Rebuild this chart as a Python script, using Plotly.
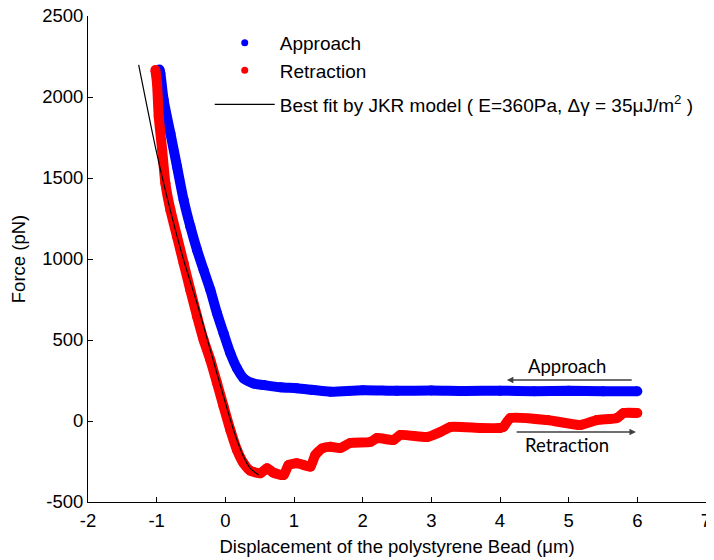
import plotly.graph_objects as go

# Approach (blue)
app_x = [-0.96, -0.946, -0.898, -0.80, -0.703, -0.607, -0.509, -0.412, -0.316, -0.218, -0.121,
         -0.025, 0.073, 0.170, 0.266, 0.41, 0.56, 0.80, 1.04, 1.29, 1.53, 2.0, 2.5, 3.0, 3.5,
         4.0, 4.5, 5.0, 5.5, 6.0]
app_y = [2170, 2146, 1981, 1776, 1570, 1364, 1199, 1056, 932, 809, 665,
         541, 418, 325, 263, 232, 222, 208, 202, 191, 181, 190, 186, 188, 185,
         187, 184, 186, 183, 184]

# Retraction (red)
ret_x = [-1.019, -0.995, -0.97, -0.92, -0.873, -0.80, -0.703, -0.607, -0.51, -0.41, -0.316,
         -0.218, -0.12, -0.025, 0.073, 0.17, 0.266, 0.364, 0.51, 0.607, 0.70, 0.85, 0.92,
         1.04, 1.14, 1.24, 1.31, 1.41, 1.53, 1.67, 1.82, 2.11, 2.21, 2.45, 2.55, 2.94,
         3.13, 3.28, 3.71, 4.0, 4.05, 4.15, 4.69, 5.17, 5.41, 5.70, 5.80, 6.0]
ret_y = [2167, 2085, 1879, 1673, 1467, 1303, 1138, 973, 809, 644, 500,
         377, 233, 89, -56, -179, -261, -307, -323, -292, -319, -333, -272,
         -261, -272, -282, -210, -169, -159, -167, -136, -130, -105, -117, -86, -99,
         -68, -37, -43, -43, -37, 18, 6, -25, 6, 18, 49, 49]

# JKR fit (black)
fit_x = [-1.262, -1.14, -1.02, -0.898, -0.752, -0.607, -0.412, -0.218, -0.025, 0.12, 0.266, 0.364, 0.485]
fit_y = [2198, 1940, 1693, 1467, 1220, 994, 727, 438, 150, -56, -220, -292, -333]

x_ticks = [-2, -1, 0, 1, 2, 3, 4, 5, 6, 7]
x_labels = ["-2", "-1", "0", "1", "2", "3", "4", "5", "6", "7"]
y_ticks = [-500, 0, 500, 1000, 1500, 2000, 2500]
y_labels = ["-500", "0", "500", "1000", "1500", "2000", "2500"]

font_main = "Liberation Sans, Arial, sans-serif"

fig = go.Figure()
fig.add_trace(go.Scatter(x=app_x, y=app_y, mode="lines+markers", showlegend=False,
                         line=dict(color="#0000ff", width=10, shape="spline", smoothing=0.8),
                         marker=dict(color="#0000ff", size=10)))
fig.add_trace(go.Scatter(x=ret_x, y=ret_y, mode="lines+markers", showlegend=False,
                         line=dict(color="#ff0000", width=10, shape="spline", smoothing=0.5),
                         marker=dict(color="#ff0000", size=10)))
fig.add_trace(go.Scatter(x=fit_x, y=fit_y, mode="lines", showlegend=False,
                         line=dict(color="black", width=1.2, shape="spline", smoothing=0.8)))
# legend entries
fig.add_trace(go.Scatter(x=[None], y=[None], mode="markers", name="Approach",
                         marker=dict(color="#0000ff", size=7), legend="legend"))
fig.add_trace(go.Scatter(x=[None], y=[None], mode="markers", name="Retraction",
                         marker=dict(color="#ff0000", size=7), legend="legend"))
fig.add_trace(go.Scatter(x=[None], y=[None], mode="lines",
                         name="Best fit by JKR model ( E=360Pa, Δγ = 35μJ/m<sup>2</sup> )",
                         line=dict(color="black", width=1.2), legend="legend2"))

fig.add_annotation(x=4.98, y=340, text="Approach", showarrow=False,
                   font=dict(family="Lato", size=18.5, color="black"))
fig.add_annotation(x=4.98, y=-148, text="Retraction", showarrow=False,
                   font=dict(family="Lato", size=18.5, color="black"))
fig.add_annotation(x=4.10, y=253, ax=5.94, ay=253, xref="x", yref="y", axref="x", ayref="y",
                   text="", showarrow=True, arrowhead=2, arrowsize=1, arrowwidth=1.3,
                   arrowcolor="#404040")
fig.add_annotation(x=5.98, y=-68, ax=4.22, ay=-68, xref="x", yref="y", axref="x", ayref="y",
                   text="", showarrow=True, arrowhead=2, arrowsize=1, arrowwidth=1.3,
                   arrowcolor="#404040")

# page body adds an 8px offset; margins compensate so the plot area lands where the reference has it
fig.update_layout(
    width=714, height=560,
    margin=dict(l=80, r=16, t=8, b=66),
    plot_bgcolor="white", paper_bgcolor="white",
    font=dict(family=font_main, size=18, color="black"),
    legend=dict(x=0.197, y=0.984, xanchor="left", yanchor="top", bgcolor="rgba(0,0,0,0)",
                itemwidth=60, tracegroupgap=0, font=dict(size=19)),
    legend2=dict(x=0.197, y=0.857, xanchor="left", yanchor="top", bgcolor="rgba(0,0,0,0)",
                 itemwidth=60, font=dict(size=19)),
    xaxis=dict(range=[-2, 7], tickvals=x_ticks, ticktext=x_labels, showline=True,
               linecolor="black", linewidth=1, automargin=False, ticklabelstandoff=2,
               ticklabeloverflow="allow", tickfont=dict(size=18.5),
               ticks="inside", ticklen=5, tickcolor="black", showgrid=False, zeroline=False,
               title=dict(text="Displacement of the polystyrene Bead (μm)", standoff=9,
                          font=dict(size=18.5)),
               mirror=False),
    yaxis=dict(range=[-500, 2500], tickvals=y_ticks, ticktext=y_labels, showline=True,
               linecolor="black", linewidth=1, automargin=False, ticklabeloverflow="allow",
               tickfont=dict(size=18.5),
               ticks="inside", ticklen=5, tickcolor="black", showgrid=False, zeroline=False,
               title=dict(text="Force (pN)", standoff=12, font=dict(size=18.5)), mirror=False),
)

fig.write_html("out.html")
